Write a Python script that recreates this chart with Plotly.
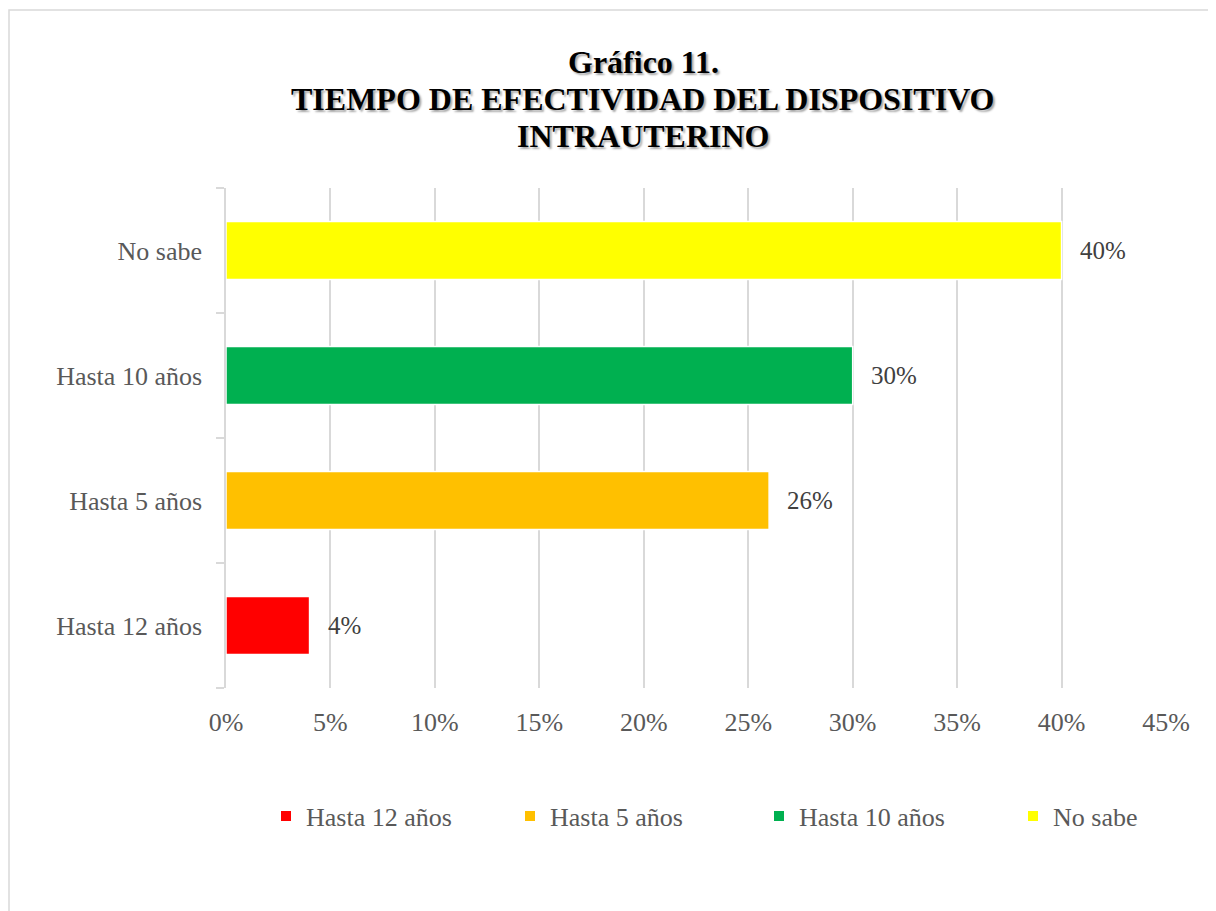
import plotly.graph_objects as go

categories = ["Hasta 12 años", "Hasta 5 años", "Hasta 10 años", "No sabe"]
values = [0.04, 0.26, 0.30, 0.40]
colors = ["#FF0000", "#FFC000", "#00B050", "#FFFF00"]
title_lines = ["Gráfico 11.", "TIEMPO DE EFECTIVIDAD DEL DISPOSITIVO", "INTRAUTERINO"]
x_ticks = [0, 0.05, 0.10, 0.15, 0.20, 0.25, 0.30, 0.35, 0.40, 0.45]

FONT = "Liberation Serif, Times New Roman, serif"
OFF = 8  # page body margin
W, H = 1216 - OFF, 911 - OFF
L, R, T, B = 226 - OFF, 50, 188 - OFF, 223
PW, PH = W - L - R, H - T - B


def px_x(page_x):
    return (page_x - OFF - L) / PW


def px_y(page_y):
    return (H - B - (page_y - OFF)) / PH


fig = go.Figure()

# bars
for cat, val, col in zip(categories, values, colors):
    fig.add_trace(go.Bar(
        x=[val], y=[cat], orientation="h",
        marker=dict(color=col, line=dict(color="white", width=1.5)),
        showlegend=False, hoverinfo="x+y", width=0.465,
    ))

# legend entries, one legend per entry so spacing matches
legend_x = [288, 532, 781, 1035]  # marker centres (page px)
legend_names = ["legend", "legend2", "legend3", "legend4"]
for cat, col, lg in zip(categories, colors, legend_names):
    fig.add_trace(go.Scatter(
        x=[None], y=[None], mode="markers", name=cat,
        marker=dict(symbol="square", size=10, color=col),
        showlegend=True, legend=lg,
    ))

# data labels
for cat, val in zip(categories, values):
    fig.add_annotation(
        x=val, y=cat, xref="x", yref="y", text=f"{round(val*100)}%",
        showarrow=False, xanchor="left", yanchor="middle", xshift=16,
        font=dict(family=FONT, size=25, color="#404040"),
    )

# title lines
title_y = [62, 99, 136]
for line, ty in zip(title_lines, title_y):
    fig.add_annotation(
        x=px_x(643), y=px_y(ty), xref="paper", yref="paper",
        text=f"<b>{line}</b>", showarrow=False,
        xanchor="center", yanchor="middle",
        font=dict(family=FONT, size=32, color="black",
                  shadow="2px 2px 2px rgba(0,0,0,0.35)"),
    )

# outer chart border (top & left visible)
fig.add_shape(
    type="rect", xref="paper", yref="paper", layer="below",
    x0=(1 - L) / PW, x1=(W + 20 - L) / PW,
    y0=(-20 - B) / PH, y1=(H - 2 - B) / PH,
    line=dict(color="#D9D9D9", width=1.5), fillcolor="rgba(0,0,0,0)",
)

legend_common = dict(
    orientation="h", xref="container", xanchor="left",
    yref="container", yanchor="middle", y=1 - (816 - OFF) / H,
    font=dict(family=FONT, size=26, color="#595959"),
    itemwidth=30, bgcolor="rgba(0,0,0,0)",
)

layout_legends = {}
for lg, lx in zip(legend_names, legend_x):
    layout_legends[lg] = dict(legend_common, x=(lx - OFF - 22) / W)

fig.update_layout(
    width=W, height=H,
    margin=dict(l=L, r=R, t=T, b=B, autoexpand=False),
    paper_bgcolor="white", plot_bgcolor="white",
    barmode="overlay",
    font=dict(family=FONT, size=26, color="#595959"),
    xaxis=dict(
        range=[0, 0.45], tickvals=x_ticks, tickformat=".0%",
        showgrid=True, gridcolor="#D9D9D9", gridwidth=1.5,
        zeroline=False, showline=False, ticks="",
        ticklabelstandoff=16,
        tickfont=dict(family=FONT, size=26, color="#595959"),
        fixedrange=True,
    ),
    yaxis=dict(
        categoryorder="array", categoryarray=categories,
        showgrid=False, zeroline=False,
        showline=True, linecolor="#D9D9D9", linewidth=1.5,
        ticks="outside", tickson="boundaries", ticklen=8,
        tickcolor="#D9D9D9", tickwidth=1.5,
        ticklabelstandoff=17,
        tickfont=dict(family=FONT, size=26, color="#595959"),
        fixedrange=True,
    ),
    **layout_legends,
)

fig.write_html("out.html")
